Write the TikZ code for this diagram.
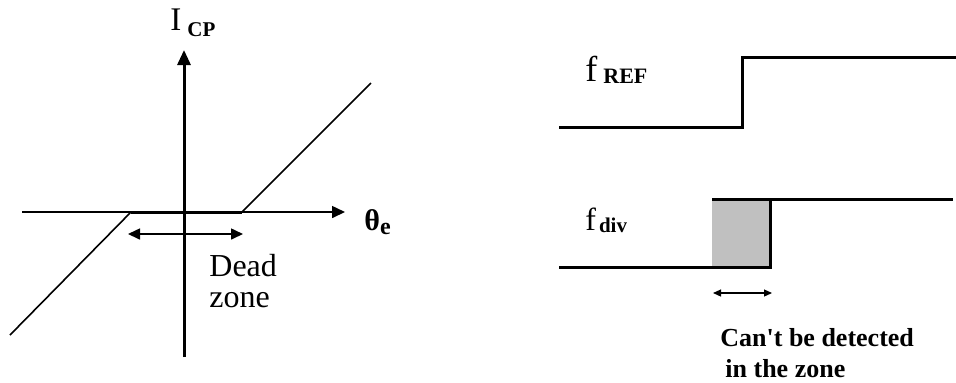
\documentclass[tikz,border=0pt]{standalone}
\usepackage{fontspec}
\setmainfont{Liberation Serif}
\usepackage{xcolor}
\usetikzlibrary{arrows.meta}
\definecolor{ink}{RGB}{0,0,0}
\definecolor{zonegray}{RGB}{192,192,192}
\tikzset{
  axisarr/.style  ={-{Triangle[length=7.5pt,width=6.5pt]}, line width=1.5pt, color=ink},
  thinaxis/.style ={-{Triangle[length=6.5pt,width=6pt]}, line width=0.8pt, color=ink},
  curve/.style    ={line width=0.8pt, color=ink},
  thickline/.style={line width=1.5pt, color=ink},
  zonearr/.style  ={{Triangle[length=6pt,width=5.5pt]}-{Triangle[length=6pt,width=5.5pt]}, line width=0.8pt, color=ink},
  smallarr/.style ={{Triangle[length=4pt,width=3.5pt]}-{Triangle[length=4pt,width=3.5pt]}, line width=0.6pt, color=ink},
  wave/.style     ={line width=1.5pt, color=ink, line join=miter},
  lbl/.style      ={inner sep=0pt, anchor=base west, color=ink},
}
\begin{document}
\begin{tikzpicture}[x=0.5pt, y=-0.5pt]
\useasboundingbox (0,0) rectangle (956,382);
% dead zone characteristic
\coordinate (ybot) at (184,357);
\coordinate (ytop) at (184,50);
\coordinate (xleft) at (22,212);
\coordinate (xright) at (345,212);
\coordinate (dzl) at (131,212);
\coordinate (dzr) at (242,212);
\coordinate (lowend) at (10,335);
\coordinate (highend) at (371,83);
\draw[thinaxis] (xleft) -- (xright);
\draw[axisarr] (ybot) -- (ytop);
\draw[thickline] (dzl) -- (dzr);
\draw[curve] (lowend) -- (dzl);
\draw[curve] (dzr) -- (highend);
\coordinate (dzal) at (128,234);
\coordinate (dzar) at (243,234);
\draw[zonearr] (dzal) -- (dzar);
\node[lbl] (icp) at (170,30) {\fontsize{16.5}{18}\selectfont I\hspace{3pt}\raisebox{-3pt}{\fontsize{10.5}{12}\selectfont\bfseries CP}};
\node[lbl] (theta) at (364,230) {\fontsize{15}{17}\selectfont\bfseries θ\raisebox{-2pt}{\fontsize{12}{14}\selectfont e}};
\node[inner sep=0pt, anchor=north west, align=left, font=\fontsize{16}{15.5}\selectfont] (deadzone) at (209,254) {Dead\\zone};
% reference and divided clocks
\coordinate (rs) at (559,127);
\coordinate (rstep) at (742,127);
\coordinate (rhigh) at (742,57);
\coordinate (re) at (956,57);
\draw[wave] (rs) -- (rstep) -- (rhigh) -- (re);
\fill[zonegray] (712,199) rectangle (770,267);
\coordinate (ds) at (559,267);
\coordinate (dstep) at (770,267);
\coordinate (dhigh) at (770,199);
\coordinate (de) at (953,199);
\coordinate (gl) at (712,199);
\draw[wave] (ds) -- (dstep) -- (dhigh) -- (de);
\draw[wave] (gl) -- (dhigh);
\coordinate (sal) at (713,293);
\coordinate (sar) at (772,293);
\draw[smallarr] (sal) -- (sar);
\node[lbl] (fref) at (585,81) {\fontsize{18}{20}\selectfont f\hspace{3pt}\raisebox{-1pt}{\fontsize{11}{12}\selectfont\bfseries REF}};
\node[lbl] (fdiv) at (585,230) {\fontsize{16}{18}\selectfont f\hspace{1.5pt}\raisebox{-1pt}{\fontsize{10.5}{12}\selectfont\bfseries div}};
\node[lbl] (cant) at (720,346) {\fontsize{13}{15}\selectfont\bfseries Can\textquotesingle t be detected};
\node[lbl] (inzone) at (725,377) {\fontsize{13}{15}\selectfont\bfseries in the zone};
\end{tikzpicture}
\end{document}
